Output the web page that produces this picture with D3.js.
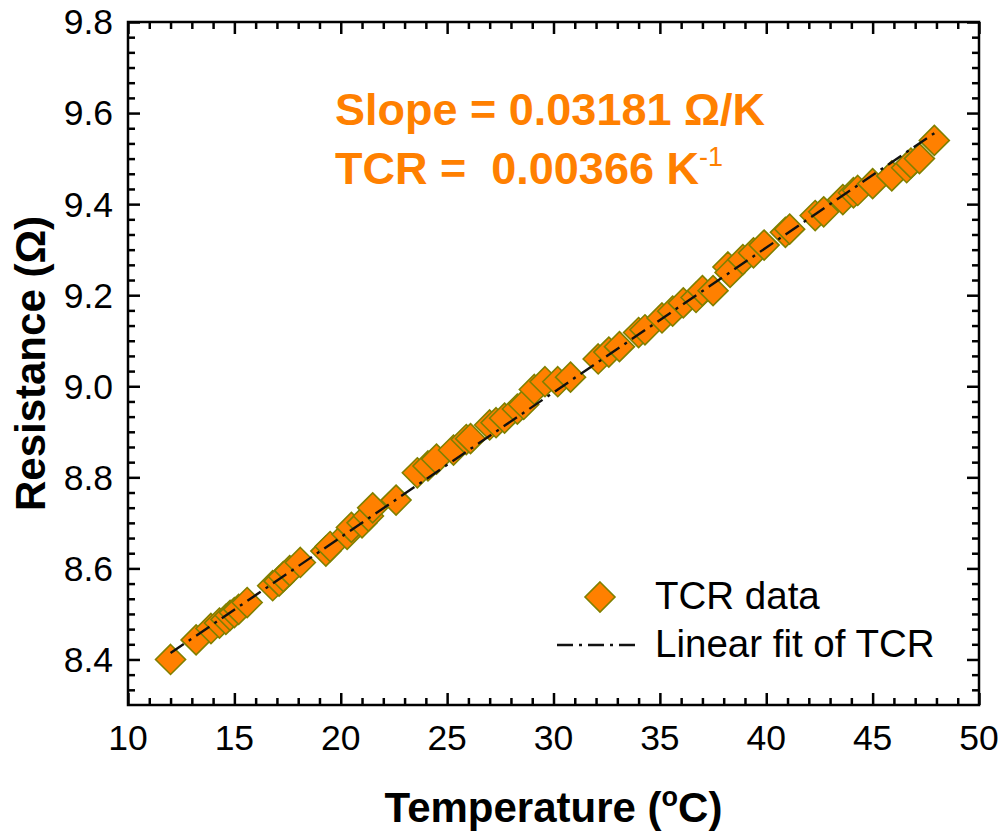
<!DOCTYPE html>
<html><head><meta charset="utf-8">
<script src="https://cdn.jsdelivr.net/npm/d3@7"></script>
<style>body{margin:0;background:#fff}svg{display:block}text{font-family:"Liberation Sans",Arial,sans-serif}</style>
</head><body>
<script>
const temps = [12.0,13.2,13.9,14.3,14.6,14.8,15.0,15.2,15.6,16.8,17.1,17.3,17.6,18.1,19.3,19.5,20.3,20.5,21.0,21.3,21.5,22.6,23.6,24.1,24.5,25.3,25.9,26.1,27.0,27.3,27.7,28.3,28.6,29.1,29.6,30.2,30.8,32.1,32.6,33.1,34.0,34.3,35.1,35.6,36.1,36.7,37.0,37.5,38.2,38.3,38.9,39.4,39.9,40.9,41.1,42.3,42.7,43.6,44.1,44.3,45.0,45.9,46.6,46.8,47.2,47.9];
const resist = [8.400,8.443,8.468,8.480,8.488,8.497,8.503,8.510,8.525,8.562,8.572,8.582,8.595,8.613,8.638,8.648,8.675,8.690,8.700,8.715,8.733,8.750,8.810,8.825,8.840,8.860,8.883,8.885,8.915,8.920,8.930,8.950,8.960,8.993,9.010,9.010,9.020,9.060,9.075,9.087,9.118,9.124,9.150,9.165,9.183,9.195,9.210,9.210,9.262,9.250,9.278,9.293,9.310,9.338,9.345,9.375,9.383,9.410,9.425,9.430,9.445,9.462,9.480,9.490,9.500,9.540];
const fitT = [12.0, 48.0];
const fitR = [8.414, 9.559];
const xTicks = [10,15,20,25,30,35,40,45,50];
const yTicks = [8.4,8.6,8.8,9.0,9.2,9.4,9.6,9.8];
const legendLabels = ["TCR data","Linear fit of TCR"];

const W=1003,H=833;
const L=128,R=979,T=22,B=705;
const orange="#FF8000", olive="#808000";
const svg=d3.select("body").append("svg").attr("width",W).attr("height",H);
const x=d3.scaleLinear().domain([10,50]).range([L,R]);
const y=d3.scaleLinear().domain([8.3,9.8]).range([B,T]);

const xMinor=d3.range(10,50.001,1).filter(v=>Math.abs(v%5)>1e-6);
const yMinor=d3.range(0,46).map(i=>8.3+i*0.2/6).filter(v=>v<=9.8001 && yTicks.every(t=>Math.abs(t-v)>1e-6) && Math.abs(v-8.3)>1e-6 && Math.abs(v-9.8)>1e-6);

function styleAxis(g){g.select(".domain").remove();g.selectAll("line").attr("stroke","#000").attr("stroke-width",2.5);}
svg.append("g").attr("transform",`translate(0,${B})`).call(d3.axisBottom(x).tickValues(xTicks).tickSize(-12).tickFormat("")).call(styleAxis);
svg.append("g").attr("transform",`translate(0,${B})`).call(d3.axisBottom(x).tickValues(xMinor).tickSize(-7).tickFormat("")).call(styleAxis);
svg.append("g").attr("transform",`translate(0,${T})`).call(d3.axisTop(x).tickValues(xTicks).tickSize(-12).tickFormat("")).call(styleAxis);
svg.append("g").attr("transform",`translate(0,${T})`).call(d3.axisTop(x).tickValues(xMinor).tickSize(-7).tickFormat("")).call(styleAxis);
svg.append("g").attr("transform",`translate(${L},0)`).call(d3.axisLeft(y).tickValues(yTicks).tickSize(-12).tickFormat("")).call(styleAxis);
svg.append("g").attr("transform",`translate(${L},0)`).call(d3.axisLeft(y).tickValues(yMinor).tickSize(-7).tickFormat("")).call(styleAxis);
svg.append("g").attr("transform",`translate(${R},0)`).call(d3.axisRight(y).tickValues(yTicks).tickSize(-12).tickFormat("")).call(styleAxis);
svg.append("g").attr("transform",`translate(${R},0)`).call(d3.axisRight(y).tickValues(yMinor).tickSize(-7).tickFormat("")).call(styleAxis);
svg.append("rect").attr("x",L).attr("y",T).attr("width",R-L).attr("height",B-T).attr("fill","none").attr("stroke","#000").attr("stroke-width",2.5);

svg.append("g").selectAll("text").data(xTicks).join("text")
  .attr("x",d=>x(d)).attr("y",750).attr("text-anchor","middle").attr("font-size",35.5).text(d=>d);
svg.append("g").selectAll("text").data(yTicks).join("text")
  .attr("x",113).attr("y",d=>y(d)).attr("dy","0.35em").attr("text-anchor","end").attr("font-size",35.5).text(d=>d.toFixed(1));

const xt=svg.append("text").attr("x",(L+R)/2).attr("y",822).attr("text-anchor","middle").attr("font-size",42).attr("font-weight","bold");
xt.append("tspan").text("Temperature (");
xt.append("tspan").attr("font-size",27).attr("dy",-16).text("o");
xt.append("tspan").attr("dy",16).text("C)");
svg.append("text").attr("transform",`translate(45,${(T+B)/2}) rotate(-90)`).attr("text-anchor","middle").attr("font-size",42).attr("font-weight","bold").text("Resistance (Ω)");

const pts=temps.map((t,i)=>({t,r:resist[i]}));
const hd=15;
const diamondPath=`M0,${-hd}L${hd},0L0,${hd}L${-hd},0Z`;
svg.append("g").selectAll("path").data(pts).join("path")
  .attr("d",diamondPath).attr("transform",d=>`translate(${x(d.t)},${y(d.r)})`)
  .attr("fill",orange).attr("stroke",olive).attr("stroke-width",1.6);

svg.append("path").datum(fitT.map((t,i)=>[t,fitR[i]]))
  .attr("d",d3.line().x(d=>x(d[0])).y(d=>y(d[1])))
  .attr("fill","none").attr("stroke","#111").attr("stroke-width",2.4).attr("stroke-dasharray","16,6,3,6");

svg.append("text").attr("x",335).attr("y",125).attr("font-size",45).attr("font-weight","bold").attr("fill",orange).text("Slope = 0.03181 Ω/K");
const a2=svg.append("text").attr("x",335).attr("y",184).attr("font-size",45).attr("font-weight","bold").attr("fill",orange).attr("xml:space","preserve");
a2.append("tspan").text("TCR =  0.00366 K");
a2.append("tspan").attr("font-size",27).attr("font-weight","normal").attr("dy",-18).text("-1");

svg.append("path").attr("d",diamondPath).attr("transform","translate(600,597)").attr("fill",orange).attr("stroke",olive).attr("stroke-width",1.6);
svg.append("line").attr("x1",557).attr("x2",637).attr("y1",645).attr("y2",645).attr("stroke","#111").attr("stroke-width",2.4).attr("stroke-dasharray","16,6,3,6");
svg.append("g").selectAll("text").data(legendLabels).join("text")
  .attr("x",655).attr("y",(d,i)=>609+i*48).attr("font-size",38.5).text(d=>d);
</script>
</body></html>
